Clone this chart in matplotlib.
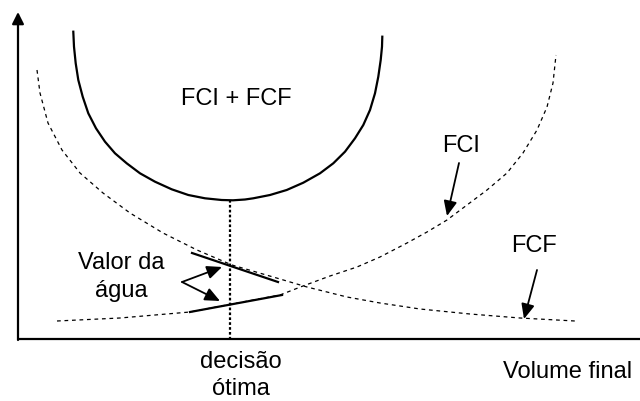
import matplotlib
matplotlib.use("Agg")
import matplotlib.pyplot as plt

plt.rcParams['font.family'] = ['Liberation Sans', 'DejaVu Sans']

# pontos (coordenadas do desenho, y para baixo)
soma_x = [73.3, 74, 75.7, 78.3, 82.7, 88.3, 96, 105, 115, 126.7, 140, 155, 171.7, 188.3, 205,
          221.7, 233, 245, 253.3, 270, 286.7, 303.3, 320, 333.3, 345, 355, 363.3, 370, 375,
          378.3, 380.7, 382, 382.3]
soma_y = [31.7, 46.7, 63.3, 80, 96.7, 113.3, 128.3, 141.7, 153.3, 163.3, 173.3, 181.7, 189.3,
          195, 198.3, 200, 200.3, 199.5, 198.3, 195, 190, 182.7, 173.3, 163.3, 151.7, 138.3,
          125, 110, 93.3, 76.7, 60, 46.7, 36.7]

fcf_x = [37, 40, 48, 62, 80, 103, 130, 163, 197, 232, 280, 307, 347, 380, 420, 470, 520, 575]
fcf_y = [70, 93, 123, 150, 173, 193, 213, 233, 250, 265, 279, 287, 297, 303, 309, 314, 318, 321]

fci_x = [57, 120, 190, 232, 280, 303, 330, 357, 380, 407, 427, 447, 467, 487, 507, 523, 537,
         547, 553, 556]
fci_y = [321, 318, 312, 304, 295, 286, 276, 267, 257, 243, 232, 220, 205, 190, 173, 153, 130,
         107, 83, 55]

tang_sup_x = [192, 278]
tang_sup_y = [253, 282]
tang_inf_x = [190, 282]
tang_inf_y = [312, 295]

decisao_x = 230
min_y = 200
eixo_x0, eixo_y0 = 18, 339

fig = plt.figure(figsize=(6.4, 4.01), dpi=100)
ax = fig.add_axes([0, 0, 1, 1])
ax.set_xlim(0, 640)
ax.set_ylim(401, 0)
ax.axis('off')

# eixos
ax.plot([eixo_x0, 640], [eixo_y0, eixo_y0], color='black', lw=1.6, solid_capstyle='butt')
ax.annotate('', xy=(eixo_x0, 12), xytext=(eixo_x0, eixo_y0 + 1),
            arrowprops=dict(arrowstyle='-|>,head_length=0.7,head_width=0.35',
                            color='black', lw=1.6, shrinkA=0, shrinkB=0))

# curvas
ax.plot(soma_x, soma_y, color='black', lw=1.6, solid_joinstyle='round')
ax.plot(fcf_x, fcf_y, color='black', lw=0.9, dashes=(3, 3))
ax.plot(fci_x, fci_y, color='black', lw=0.9, dashes=(3, 3))
ax.plot(tang_sup_x, tang_sup_y, color='black', lw=1.6)
ax.plot(tang_inf_x, tang_inf_y, color='black', lw=1.6)
ax.plot([decisao_x, decisao_x], [min_y, eixo_y0], color='black', lw=1.6, dashes=(1.2, 1))

# textos
fs = 17
ax.text(236, 99, 'FCI + FCF', fontsize=fs, ha='center', va='center')
ax.text(461, 146, 'FCI', fontsize=fs, ha='center', va='center')
ax.text(534, 246, 'FCF', fontsize=fs, ha='center', va='center')
ax.text(121, 263, 'Valor da', fontsize=fs, ha='center', va='center')
ax.text(121, 291, 'água', fontsize=fs, ha='center', va='center')
ax.text(241, 362, 'decisão', fontsize=fs, ha='center', va='center')
ax.text(241, 389, 'ótima', fontsize=fs, ha='center', va='center')
ax.text(568, 372, 'Volume final', fontsize=fs, ha='center', va='center')

# setas
seta = dict(arrowstyle='-|>,head_length=0.9,head_width=0.4', color='black', lw=1.3,
            shrinkA=0, shrinkB=0)
ax.annotate('', xy=(447, 216), xytext=(459, 163), arrowprops=seta)
ax.annotate('', xy=(524, 319), xytext=(537, 270), arrowprops=seta)
ax.annotate('', xy=(222, 267), xytext=(182, 282), arrowprops=seta)
ax.annotate('', xy=(220, 301), xytext=(182, 282), arrowprops=seta)

fig.savefig('out.png', dpi=100)
